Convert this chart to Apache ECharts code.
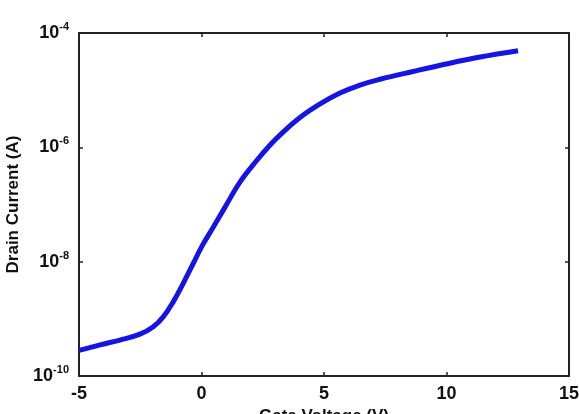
<!DOCTYPE html>
<html>
<head>
<meta charset="utf-8">
<script src="https://cdn.jsdelivr.net/npm/echarts@6/dist/echarts.min.js"></script>
<style>
  html, body { margin: 0; padding: 0; background: #fff; }
  #chart { width: 579px; height: 414px; }
</style>
</head>
<body>
<div id="chart"></div>
<script>
// Transfer curve: drain current vs gate voltage
var gateVoltage = [-5, -4.14, -3.33, -2.51, -1.98, -1.57, -1.16, -0.76, -0.31, 0.02, 0.43, 0.96, 1.57, 2.27, 2.80, 3.20, 4.02, 4.84, 5.65, 6.47, 7.29, 8.63, 9.98, 11.37, 12.92];
var drainCurrent = [2.8e-10, 3.5e-10, 4.25e-10, 5.4e-10, 7.2e-10, 1.07e-9, 1.96e-9, 4.06e-9, 9.8e-9, 1.87e-8, 3.7e-8, 9.0e-8, 2.47e-7, 6.0e-7, 1.10e-6, 1.64e-6, 3.32e-6, 5.73e-6, 8.9e-6, 1.23e-5, 1.55e-5, 2.12e-5, 2.87e-5, 3.8e-5, 4.9e-5];
var xTicks = [-5, 0, 5, 10, 15];
var yTicks = [1e-10, 1e-8, 1e-6, 1e-4];

var FONT = '"Liberation Sans", Arial, sans-serif';
var AXIS_COLOR = '#222';

var points = gateVoltage.map(function (v, i) { return [v, drainCurrent[i]]; });

function expLabel(val) {
    var e = Math.round(Math.log10(val));
    return '{b|10}{s|' + e + '}';
}

function frameAxis(extra) {
    var base = {
        axisLine: { onZero: false, lineStyle: { color: AXIS_COLOR, width: 2 } },
        axisTick: { inside: true, length: 4, lineStyle: { color: AXIS_COLOR, width: 1.5 } },
        splitLine: { show: false }
    };
    return Object.assign(base, extra);
}

var chart = echarts.init(document.getElementById('chart'));
chart.setOption({
    animation: false,
    grid: { left: 79, top: 33, right: 10, bottom: 38, containLabel: false, outerBoundsMode: 'none' },
    xAxis: [frameAxis({
        type: 'value',
        min: xTicks[0], max: xTicks[xTicks.length - 1], interval: 5,
        name: 'Gate Voltage (V)',
        nameLocation: 'middle',
        nameGap: 28,
        nameTextStyle: { fontFamily: FONT, fontWeight: 'bold', fontSize: 17, color: '#111' },
        axisLabel: { fontFamily: FONT, fontWeight: 'bold', fontSize: 18, color: '#111', margin: 9 }
    }), frameAxis({
        type: 'value', position: 'top',
        min: xTicks[0], max: xTicks[xTicks.length - 1], interval: 5,
        axisLabel: { show: false }
    })],
    yAxis: [frameAxis({
        type: 'log', logBase: 10,
        min: yTicks[0], max: yTicks[yTicks.length - 1], interval: 2,
        name: 'Drain Current (A)',
        nameLocation: 'middle',
        nameGap: 48,
        nameTextStyle: { fontFamily: FONT, fontWeight: 'bold', fontSize: 17, color: '#111' },
        axisLabel: {
            margin: 10,
            formatter: expLabel,
            rich: {
                b: { fontFamily: FONT, fontWeight: 'bold', fontSize: 18, color: '#111' },
                s: { fontFamily: FONT, fontWeight: 'bold', fontSize: 11, color: '#111', padding: [0, 0, 12, 0] }
            }
        }
    }), frameAxis({
        type: 'log', logBase: 10, position: 'right',
        min: yTicks[0], max: yTicks[yTicks.length - 1], interval: 2,
        axisLabel: { show: false }
    })],
    series: [{
        type: 'line',
        data: points,
        smooth: 0.4,
        showSymbol: false,
        lineStyle: { color: '#1414e6', width: 5 }
    }]
});
</script>
</body>
</html>
